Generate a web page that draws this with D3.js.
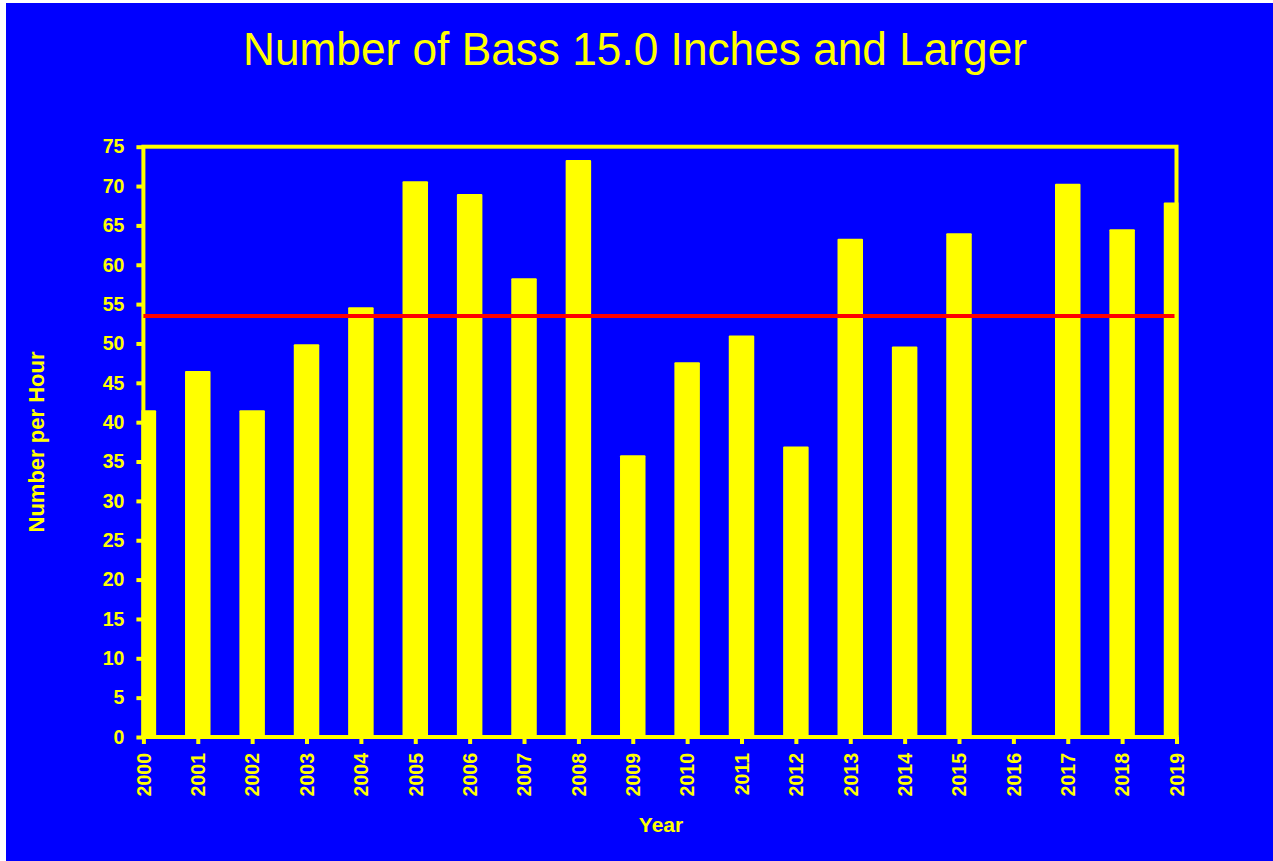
<!DOCTYPE html>
<html>
<head>
<meta charset="utf-8">
<script src="https://cdnjs.cloudflare.com/ajax/libs/d3/7.8.5/d3.min.js"></script>
<style>
  body { margin: 0; background: #ffffff; }
  svg { display: block; }
  .tick text { font-family: "Liberation Sans", Arial, sans-serif; font-weight: bold; }
</style>
</head>
<body>
<div id="chart"></div>
<script>
// data
var years = [2000, 2001, 2002, 2003, 2004, 2005, 2006, 2007, 2008, 2009,
             2010, 2011, 2012, 2013, 2014, 2015, 2016, 2017, 2018, 2019];
var perHour = [41.5, 46.5, 41.5, 49.9, 54.6, 70.6, 69.0, 58.3, 73.3, 35.8,
               47.6, 51.0, 36.9, 63.3, 49.6, 64.0, 0, 70.3, 64.5, 67.9];
var average = 53.5;
var yTicks = [0, 5, 10, 15, 20, 25, 30, 35, 40, 45, 50, 55, 60, 65, 70, 75];

var W = 1273, H = 861;
var margin = {top: 146.7, left: 143.4},
    width = 1033.1,
    height = 590.3;
var yellow = "#ffff00";

var svg = d3.select("#chart").append("svg")
  .attr("width", W)
  .attr("height", H);

// blue background (thin white strip on top/left like the original)
svg.append("rect")
  .attr("x", 6).attr("y", 3)
  .attr("width", W - 6).attr("height", H - 3)
  .attr("fill", "#0000ff");

// title
svg.append("text")
  .attr("x", 635).attr("y", 65)
  .attr("text-anchor", "middle")
  .attr("textLength", 784)
  .attr("lengthAdjust", "spacingAndGlyphs")
  .style("font-family", "'Liberation Sans', Arial, sans-serif")
  .style("font-size", "46px")
  .attr("fill", yellow)
  .text("Number of Bass 15.0 Inches and Larger");

var g = svg.append("g")
  .attr("transform", "translate(" + margin.left + "," + margin.top + ")");

var x = d3.scaleLinear().domain([2000, 2019]).range([0, width]);
var y = d3.scaleLinear().domain([0, 75]).range([height, 0]);
var barW = 25.5;

// clip so the first and last bars are cut at the frame
g.append("clipPath").attr("id", "plotclip")
  .append("rect")
  .attr("x", -2).attr("y", -2)
  .attr("width", width + 4).attr("height", height + 4);

// frame
g.append("rect")
  .attr("x", 0).attr("y", 0)
  .attr("width", width).attr("height", height)
  .attr("fill", "none")
  .attr("stroke", yellow)
  .attr("stroke-width", 4);

// bars
g.append("g").attr("clip-path", "url(#plotclip)")
  .selectAll(".bar")
  .data(years)
  .enter().append("rect")
  .attr("class", "bar")
  .attr("x", function(d) { return x(d) - barW / 2; })
  .attr("width", barW)
  .attr("y", function(d, i) { return y(perHour[i]); })
  .attr("height", function(d, i) { return height - y(perHour[i]); })
  .attr("rx", 1)
  .attr("fill", yellow);

// baseline over the bars
g.append("line")
  .attr("x1", -2).attr("x2", width + 2)
  .attr("y1", height).attr("y2", height)
  .attr("stroke", yellow)
  .attr("stroke-width", 4);

// average line
g.append("line")
  .attr("x1", x(2000)).attr("x2", x(2019) - 2)
  .attr("y1", y(average)).attr("y2", y(average))
  .attr("stroke", "#ff0000")
  .attr("stroke-width", 4);

// y axis
var yAxis = g.append("g")
  .call(d3.axisLeft(y).tickValues(yTicks).tickSize(7).tickPadding(12));
yAxis.select(".domain").remove();
yAxis.selectAll("line").attr("stroke", yellow).attr("stroke-width", 4);
yAxis.selectAll("text")
  .attr("fill", yellow)
  .style("font-size", "19.5px");

// x axis
var xAxis = g.append("g")
  .attr("transform", "translate(0," + height + ")")
  .call(d3.axisBottom(x).tickValues(years).tickFormat(d3.format("d")).tickSize(7));
xAxis.select(".domain").remove();
xAxis.selectAll("line").attr("stroke", yellow).attr("stroke-width", 4);
xAxis.selectAll("text")
  .attr("fill", yellow)
  .style("font-size", "19.5px")
  .style("text-anchor", "end")
  .attr("transform", "rotate(-90)")
  .attr("x", -16)
  .attr("y", 0)
  .attr("dy", "0.35em");

// axis titles
svg.append("text")
  .attr("transform", "translate(44,442) rotate(-90)")
  .attr("text-anchor", "middle")
  .style("font-family", "'Liberation Sans', Arial, sans-serif")
  .style("font-weight", "bold")
  .style("font-size", "22px")
  .attr("fill", yellow)
  .text("Number per Hour");

svg.append("text")
  .attr("x", 661).attr("y", 832)
  .attr("text-anchor", "middle")
  .style("font-family", "'Liberation Sans', Arial, sans-serif")
  .style("font-weight", "bold")
  .style("font-size", "21px")
  .attr("fill", yellow)
  .text("Year");
</script>
</body>
</html>
